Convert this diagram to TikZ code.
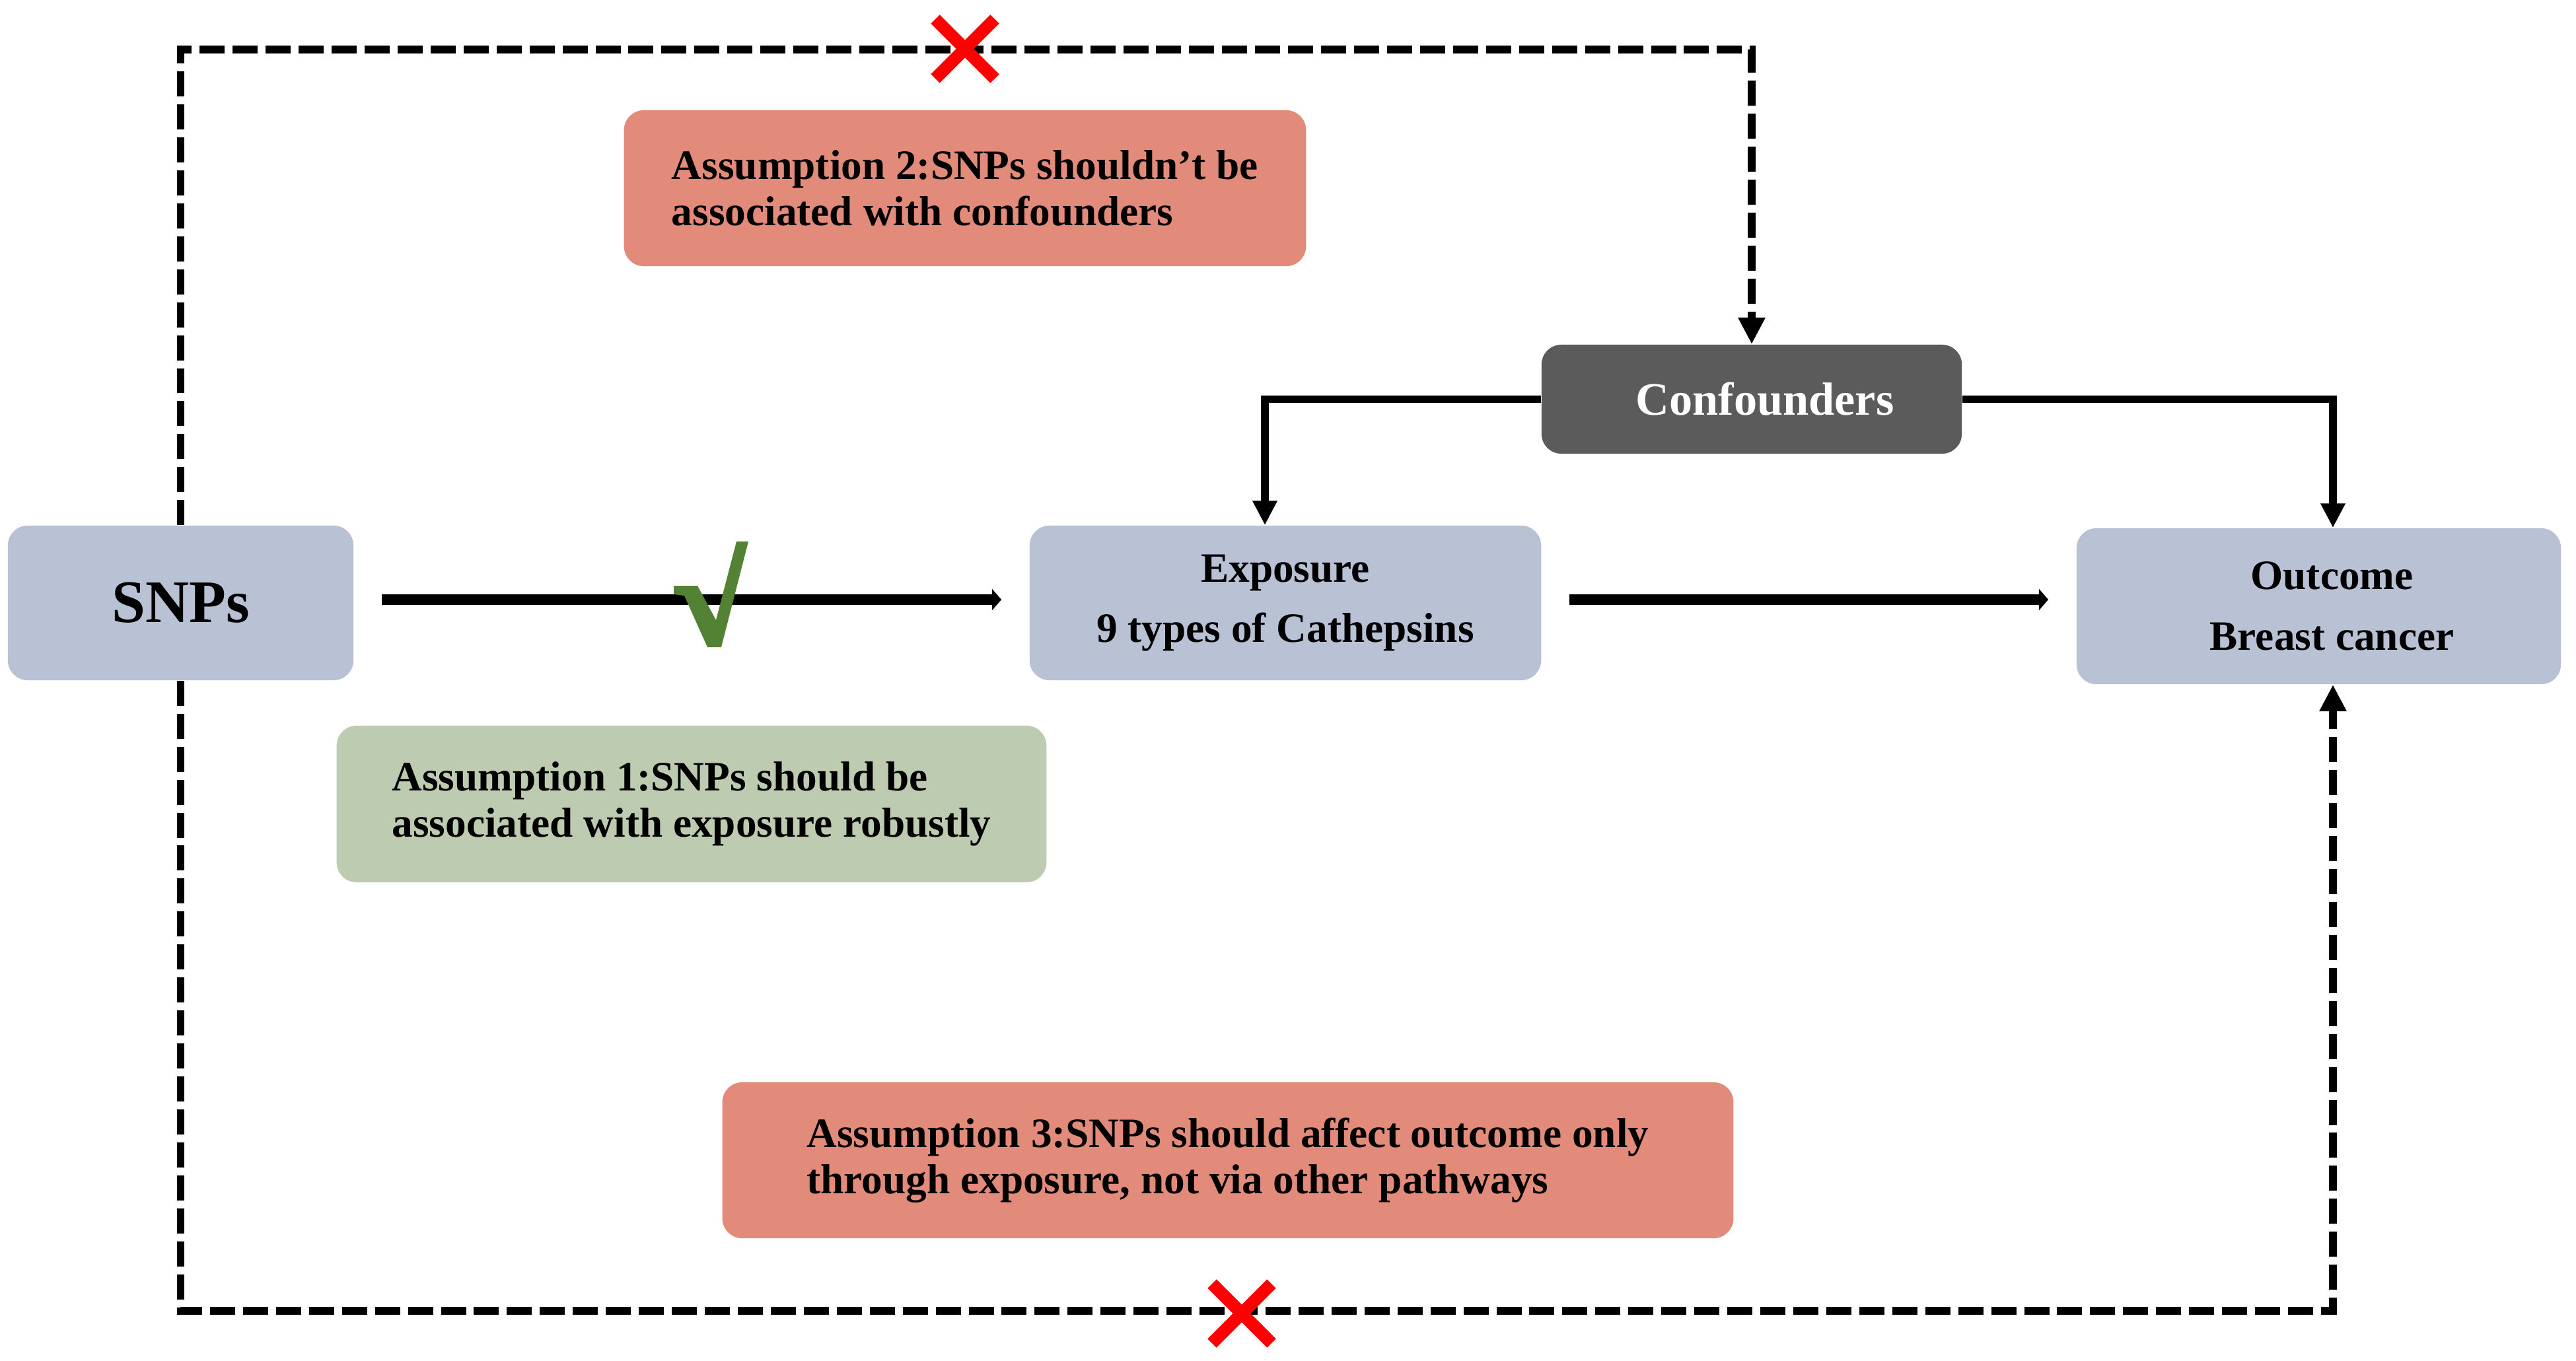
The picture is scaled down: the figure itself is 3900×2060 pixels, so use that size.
\documentclass[tikz,border=0pt]{standalone}
\usepackage{fontspec}
\setmainfont{Liberation Serif}
\usetikzlibrary{arrows.meta,calc}
\definecolor{boxblue}{HTML}{B9C2D5}
\definecolor{salmon}{HTML}{E28B7B}
\definecolor{sage}{HTML}{BDCCB0}
\definecolor{darkbox}{HTML}{5B5B5B}
\definecolor{checkgreen}{HTML}{548235}
\definecolor{xred}{HTML}{FF0000}
\begin{document}
\begin{tikzpicture}[x=0.01cm,y=-0.01cm,
  box/.style={rounded corners=0.3cm, inner sep=0pt, font=\bfseries\fontsize{18}{20}\selectfont},
  mainbox/.style={box, fill=boxblue, align=center},
  assume/.style={box, align=left},
  mainarrow/.style={line width=4.5pt, -{Triangle[length=4pt,width=9pt]}, shorten <=0.42cm, shorten >=0.42cm},
  confarrow/.style={line width=3.4pt, -{Triangle[length=10.5pt,width=10pt]}},
  dasharrow/.style={line width=3.4pt, dash pattern=on 10.8pt off 3.4pt, -{Triangle[length=11.5pt,width=11pt]}},
  cross/.style={xred, line width=5.4pt},
]
\useasboundingbox (0,0) rectangle (3900,2060);

% boxes
\node[mainbox, minimum width=5.23cm, minimum height=2.34cm, font=\bfseries\fontsize{26}{30}\selectfont] (snps) at (273.5,913) {SNPs};
\node[mainbox, minimum width=7.74cm, minimum height=2.34cm, font=\bfseries\fontsize{18}{26}\selectfont] (expo) at (1946,913) {Exposure\\9 types of Cathepsins};
\node[mainbox, minimum width=7.33cm, minimum height=2.36cm, font=\bfseries\fontsize{18}{26}\selectfont] (outc) at (3510.5,918) {\hspace*{0.4cm}Outcome\\\hspace*{0.4cm}Breast cancer};
\node[box, fill=darkbox, text=white, minimum width=6.36cm, minimum height=1.65cm, font=\bfseries\fontsize{20}{24}\selectfont] (conf) at (2652,604.5) {\hspace*{0.4cm}Confounders};
\node[assume, fill=salmon, minimum width=10.32cm, minimum height=2.36cm] (a2) at (1461,285) {Assumption 2:SNPs shouldn’t be\\associated with confounders};
\node[assume, fill=sage, minimum width=10.74cm, minimum height=2.37cm] (a1) at (1047,1217.5) {Assumption 1:SNPs should be\\associated with exposure robustly};
\node[assume, fill=salmon, minimum width=15.30cm, minimum height=2.36cm] (a3) at (1859,1757) {Assumption 3:SNPs should affect outcome only\\through exposure, not via other pathways};

% helper coordinates
\coordinate (topY) at (0,75);
\coordinate (botY) at (0,1985);
\coordinate (lx) at (1915,0);
\coordinate (rx) at (3532,0);

% solid connectors
\draw[mainarrow] ([yshift=0.05cm]snps.east) -- ([yshift=0.05cm]expo.west);
\draw[mainarrow] ([yshift=0.05cm]expo.east) -- ([yshift=0.05cm]expo.east -| outc.west);
\draw[confarrow] (conf.west) -- (lx |- conf.west) -- (lx |- expo.north);
\draw[confarrow] (conf.east) -- (rx |- conf.east) -- (rx |- outc.north);

% dashed connectors
\draw[dasharrow] (snps.north) -- (snps.north |- topY) -- (conf.north |- topY) -- (conf.north);
\draw[dasharrow] (snps.south) -- (snps.south |- botY) -- (rx |- botY) -- (rx |- outc.south);

% check mark
\fill[checkgreen] (1020,887) -- (1056,887) -- (1084,939) -- (1115,820) -- (1133,820) -- (1092,980) -- (1071,980) -- (1036,902) -- (1020,900) -- cycle;

% red crosses
\coordinate (x1) at (1461,74);
\coordinate (x2) at (1880,1989);
\draw[cross] (x1) ++(-45,-45) -- ++(90,90) (x1) ++(-45,45) -- ++(90,-90);
\draw[cross] (x2) ++(-45,-45) -- ++(90,90) (x2) ++(-45,45) -- ++(90,-90);
\end{tikzpicture}
\end{document}
